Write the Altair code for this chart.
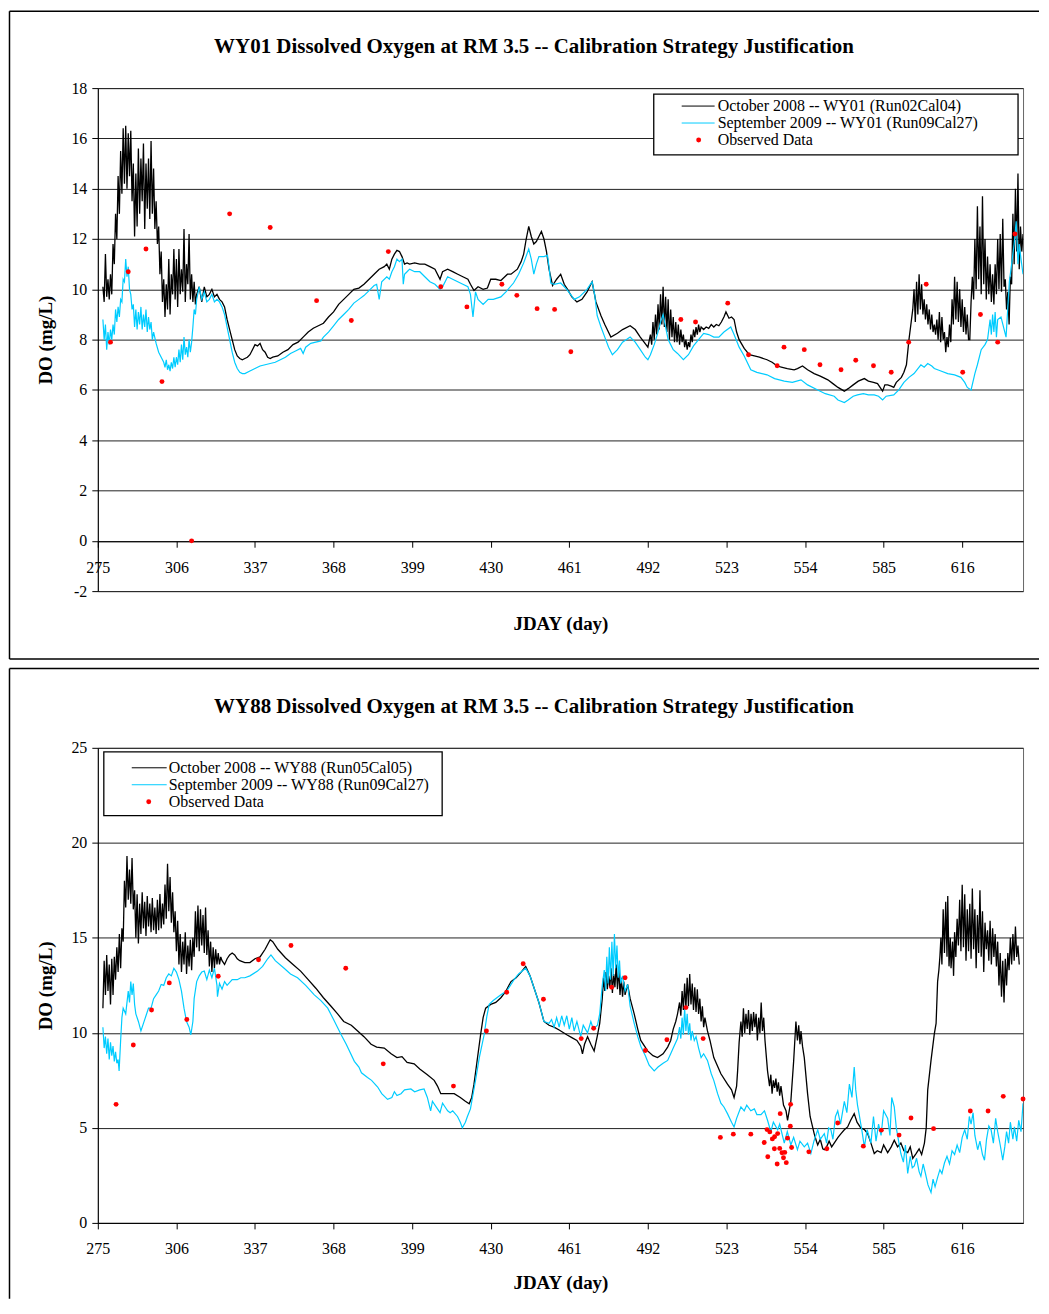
import altair as alt
import pandas as pd

FONT = "Liberation Serif"
BLACK = "#000000"
CYAN = "#00CCFF"
RED = "#FF0000"

X_TICKS = [275, 306, 337, 368, 399, 430, 461, 492, 523, 554, 585, 616]
X_DOMAIN = [275, 640]

WY01_TITLE = "WY01 Dissolved Oxygen at RM 3.5 -- Calibration Strategy Justification"
WY88_TITLE = "WY88 Dissolved Oxygen at RM 3.5 -- Calibration Strategy Justification"
WY01_LABELS = ["October 2008 -- WY01 (Run02Cal04)", "September 2009 -- WY01 (Run09Cal27)", "Observed Data"]
WY88_LABELS = ["October 2008 -- WY88 (Run05Cal05)", "September 2009 -- WY88 (Run09Cal27)", "Observed Data"]
WY01_Y_TICKS = [-2, 0, 2, 4, 6, 8, 10, 12, 14, 16, 18]
WY88_Y_TICKS = [0, 5, 10, 15, 20, 25]
X_TITLE = "JDAY (day)"
Y_TITLE = "DO (mg/L)"

# ---- WY01: October 2008 run (day, DO) ----
WY01_OCT = [
(277,10.1),(277.5,9.5),(278,11.4),(278.5,9.7),(279,10.4),(279.5,9.6),(280,10.6),(280.5,9.8),
(281,11.8),(281.5,11.0),(282,13.0),(282.5,12.0),(283,14.5),(283.5,13.0),(284,15.5),(284.5,13.8),
(285,16.4),(285.5,14.2),(286,16.5),(286.5,14.0),(287,16.2),(287.5,14.5),(288,16.3),(288.5,13.5),
(289,15.0),(289.5,12.1),(290,14.6),(290.5,12.5),(291,15.6),(291.5,13.0),(292,15.2),(292.5,13.5),
(293,15.8),(293.5,12.4),(294,15.0),(294.5,13.2),(295,15.2),(295.5,12.8),(296,15.9),(296.5,13.0),
(297,14.8),(297.5,12.4),(298,13.5),(298.5,11.8),(299,12.5),(299.5,10.6),(300,11.5),(300.5,9.5),
(301,10.4),(301.5,8.9),(302,10.2),(302.5,9.2),(303,11.2),(303.5,9.0),(304,10.6),(304.5,9.8),
(305,11.6),(305.5,9.6),(306,11.2),(306.5,9.3),(307,11.6),(307.5,9.8),(308,10.8),(308.5,9.9),
(309,12.4),(309.5,9.5),(310,11.0),(310.5,10.2),(311,12.2),(311.5,9.6),(312,10.6),(312.5,9.5),
(313,10.3),(313.5,9.4),(314,9.8),(315,10.1),(316,9.5),(317,10.1),(318,9.7),(319,9.8),(320,10.0),
(321,9.7),(322,9.8),(323,9.6),(324,9.5),(325,9.3),(326,8.8),(327,8.4),(328,8.0),(329,7.6),
(330,7.35),(331,7.25),(332,7.2),(333,7.25),(334,7.3),(335,7.4),(336,7.6),(337,7.8),(338,7.75),
(339,7.85),(340,7.6),(341,7.5),(342,7.3),(343,7.25),(344,7.3),(346,7.35),(348,7.5),(350,7.6),
(352,7.8),(354,7.9),(356,8.1),(358,8.3),(360,8.45),(362,8.55),(364,8.65),(366,8.9),(368,9.1),
(370,9.4),(372,9.6),(374,9.8),(376,10.0),(378,10.05),(380,10.2),(382,10.4),(384,10.6),(386,10.8),
(388,10.9),(389,11.0),(390,10.8),(391,11.2),(392,11.4),(393,11.55),(394,11.5),(395,11.3),(396,11.0),
(397,11.05),(398,11.0),(400,11.05),(402,11.0),(404,11.0),(406,10.9),(408,10.8),(410,10.4),(411,10.7),
(413,10.8),(415,10.7),(417,10.6),(419,10.5),(421,10.4),(422,10.2),(423.4,9.95),(425,10.1),(427,10.0),
(428.7,10.05),(430,10.4),(432,10.4),(434,10.35),(436.6,10.6),(438,10.6),(440.5,10.8),(442,11.1),
(443,11.4),(444,12.0),(445,12.5),(446,12.1),(447,11.8),(448,11.9),(449,12.1),(450,12.3),(451,12.0),
(452,11.5),(453,10.8),(454.4,10.15),(456,10.4),(457.6,10.6),(459,10.2),(460.3,10.0),(462,9.7),
(464,9.5),(466,9.6),(468,9.9),(470,10.3),(471.5,9.5),(473.5,8.95),(475,8.6),(477.4,8.1),(480,8.25),
(482,8.4),(485,8.55),(487,8.4),(489,8.1),(490.5,7.9),(492,7.7),
(493,8.2),(493.5,7.8),(494,8.7),(494.5,8.0),(495,9.0),(495.5,8.2),(496,9.4),(496.5,8.4),(497,9.8),
(497.5,8.6),(498,10.1),(498.5,8.5),(499,9.7),(499.5,8.3),(500,9.6),(500.5,8.0),(501,9.2),(501.5,8.1),
(502,8.9),(502.5,7.9),(503,8.7),(503.5,7.9),(504,8.6),(504.5,7.8),(505,8.4),(505.5,7.9),(506,8.2),
(506.5,7.7),(507,8.0),(507.5,7.6),(508,7.9),(508.5,7.7),(509,8.2),(509.5,7.9),(510,8.4),(510.5,8.1),
(511,8.5),(511.5,8.2),(512,8.6),(512.5,8.3),(513,8.5),(514,8.4),(515,8.5),(516,8.45),(517,8.6),
(518,8.5),(519,8.6),(520,8.55),(521,8.7),(522,8.9),(522.8,9.1),(524,8.85),(525,8.9),(526,8.8),
(527,8.3),(528,8.0),(530,7.65),(532,7.4),(534,7.35),(536,7.3),(539,7.2),(541,7.1),(543,6.95),
(545,6.9),(547,6.85),(549.7,6.8),(551,6.85),(553,6.95),(555,6.8),(557.6,6.65),(560,6.55),(563,6.4),
(565,6.25),(567,6.1),(569.5,5.95),(571,6.05),(573,6.2),(575,6.35),(577.4,6.45),(579,6.35),(581,6.3),
(582.6,6.25),(584.6,5.95),(585.5,6.2),(586.6,6.2),(588,6.15),(589,6.1),(590,6.3),(592,6.5),(593,6.7),
(594,7.0),(595,8.0),(596,8.8),(596.5,9.2),(597,10.0),(597.5,8.7),(598,10.3),(598.5,9.0),(599,10.6),
(599.5,9.2),(600,10.2),(600.5,9.0),(601,9.6),(601.5,8.8),(602,9.4),(602.5,8.6),(603,9.2),(603.5,8.4),
(604,9.0),(604.5,8.3),(605,8.6),(605.5,8.2),(606,8.8),(606.5,8.0),(607,9.1),(607.5,7.9),(608,8.9),
(608.5,8.0),(609,8.3),(609.5,7.5),(610,8.1),(610.5,7.7),(611,8.6),(611.5,7.9),(612,9.6),(612.5,8.6),
(613,10.5),(613.5,8.8),(614,10.3),(614.5,8.7),(615,10.0),(615.5,8.5),(616,9.6),(616.5,8.3),(617,9.3),
(617.5,8.2),(618,9.0),(618.5,8.0),(619,8.0),(619.5,9.5),(620,10.5),(620.5,9.6),(621,12.0),(621.5,10.0),
(622,13.3),(622.5,10.4),(623,12.5),(623.5,9.8),(624,13.7),(624.5,10.2),(625,12.0),(625.5,9.6),
(626,11.3),(626.5,9.8),(627,11.0),(627.5,9.5),(628,10.6),(628.5,9.4),(629,11.0),(629.5,9.8),
(630,12.0),(630.5,10.0),(631,12.2),(631.5,9.9),(632,12.8),(632.5,10.1),(633,10.4),(633.5,9.2),
(634,9.9),(634.5,8.6),(635,10.5),(635.5,10.2),(636,13.0),(636.5,11.0),(637,14.0),(637.5,11.5),
(638,14.6),(638.5,10.8),(639,12.5),(639.5,11.5),(640,12.2)]

# ---- WY01: September 2009 run ----
WY01_SEP = [
(277,8.8),(277.5,8.0),(278,8.6),(278.5,7.6),(279,8.3),(279.5,7.8),(280,8.4),(280.5,8.0),(281,8.6),
(281.5,8.2),(282,9.2),(282.5,8.7),(283,9.3),(283.5,8.9),(284,9.6),(284.5,9.5),(285,10.4),(285.5,10.3),
(286,11.2),(286.5,10.5),(287,10.9),(287.5,10.0),(288,9.8),(288.5,9.2),(289,9.4),(289.5,8.5),(290,9.2),
(290.5,8.4),(291,9.1),(291.5,8.6),(292,9.3),(292.5,8.4),(293,9.0),(293.5,8.5),(294,9.2),(294.5,8.3),
(295,8.9),(295.5,8.4),(296,8.7),(296.5,8.0),(297,8.3),(298,7.85),(299,7.5),(300,7.3),(301,7.1),
(301.5,6.9),(302,7.2),(302.5,6.8),(303,7.0),(303.5,6.75),(304,7.1),(304.5,6.85),(305,7.3),(305.5,6.9),
(306,7.3),(306.5,7.0),(307,7.6),(307.5,7.1),(308,7.8),(308.5,7.2),(309,8.1),(309.5,7.4),(310,7.7),
(310.5,7.3),(311,8.0),(311.5,7.5),(312,7.9),(312.5,8.5),(313,9.2),(313.5,9.0),(314,9.6),(315,10.1),
(316,9.6),(317,9.9),(318,9.5),(319,9.6),(320,9.8),(321,9.5),(322,9.6),(323,9.5),(324,9.3),(325,9.0),
(326,8.5),(327,8.0),(328,7.5),(329,7.1),(330,6.85),(331,6.7),(332,6.65),(333,6.65),(335,6.75),
(337,6.85),(339,6.95),(341,7.0),(343,7.05),(345,7.1),(347,7.2),(349,7.3),(351,7.45),(353,7.55),
(355,7.65),(356,7.45),(357,7.7),(359,7.85),(361,7.9),(363,7.95),(364,8.1),(366,8.3),(368,8.55),
(370,8.8),(372,9.0),(374,9.2),(376,9.45),(378,9.6),(380,9.75),(382,9.95),(384,10.15),(385,10.2),
(386,9.6),(387,10.3),(389,10.5),(390,10.4),(391,10.7),(392,10.9),(393,11.2),(394,11.1),(395,11.2),
(395.5,10.2),(396,10.6),(397,10.7),(398,10.8),(400,10.7),(402,10.7),(404,10.5),(406,10.3),(408,10.2),
(410,10.0),(411,10.1),(413,10.5),(415,10.4),(417,10.3),(419,10.2),(421,10.1),(422,9.8),(423,8.9),
(424,9.9),(425,9.6),(427,9.4),(429,9.6),(431,9.6),(434,9.7),(436,9.9),(439,10.25),(441,10.6),
(443,11.05),(445,11.6),(446,11.2),(447,10.6),(448,11.0),(449,11.3),(451,11.3),(452.4,11.35),
(453,10.9),(453.7,10.25),(455,10.2),(457.6,10.25),(460,10.0),(463,9.6),(465,9.7),(468,10.0),
(470,10.3),(471,9.8),(472,8.95),(473.5,8.5),(475,8.1),(476.5,7.7),(478,7.4),(480,7.6),(482,7.9),
(485,8.1),(487,7.9),(489,7.6),(491,7.3),(492,7.2),(493,7.4),(494.5,7.8),(496,8.3),(497,8.7),(498,9.0),
(499,8.5),(500,8.0),(501,7.8),(502,7.6),(503.7,7.45),(506,7.2),(508,7.4),(510,7.75),(512,8.0),
(514,8.25),(516,8.2),(518,8.1),(520,8.1),(522,8.3),(524.7,8.5),(526,8.2),(528,7.7),(530,7.35),
(532.6,6.8),(535,6.7),(539,6.6),(542,6.45),(545.8,6.35),(549,6.3),(552.4,6.4),(555,6.2),(559,6.0),
(562,5.85),(565.5,5.75),(567,5.6),(569.5,5.5),(571,5.6),(573,5.75),(574.7,5.8),(577,5.85),(579,5.8),
(581.3,5.8),(583,5.75),(584.6,5.6),(586,5.75),(589,5.8),(591,6.0),(593,6.3),(595,6.5),(597,6.65),
(599.7,7.0),(601,6.9),(602.4,7.05),(604,6.95),(605,6.85),(607.6,6.75),(610.3,6.65),(613,6.6),
(615.5,6.5),(617,6.3),(618,6.1),(619.5,6.0),(621,6.65),(622,7.0),(623.5,7.6),(625,7.8),(626,8.0),
(627,8.8),(627.5,8.2),(628,9.0),(628.5,8.3),(629,9.1),(629.5,8.1),(630,8.8),(631.3,8.9),(633.3,8.1),
(634.6,10.3),(635.5,11.0),(636.5,11.8),(637.3,12.7),(638,11.0),(638.5,11.8),(639.2,11.2),(640,10.6)]

WY01_OBS = [
(280,7.9),(287,10.7),(294,11.6),(300.3,6.33),(312,0.0),(327,13.0),(343,12.46),(361.3,9.55),
(375,8.76),(389.6,11.5),(410.3,10.1),(420.6,9.3),(434.4,10.2),(440.3,9.76),(448.3,9.23),(455.2,9.2),
(461.6,7.52),(505,8.8),(510.8,8.7),(523.5,9.45),(531.7,7.4),(543,6.96),(545.7,7.7),(553.7,7.6),
(559.9,7.0),(568.2,6.8),(574,7.18),(581,6.96),(588,6.7),(594.9,7.9),(601.8,10.2),(616.2,6.7),
(623.2,9.0),(630,7.9),(636.8,12.2)]

# ---- WY88: October 2008 run ----
WY88_OCT = [
(277,11.3),(277.5,13.8),(278,12.0),(278.5,14.1),(279,12.2),(279.5,13.6),(280,11.5),(280.5,13.9),
(281,12.0),(281.5,14.0),(282,12.8),(282.5,14.5),(283,13.2),(283.5,15.2),(284,13.4),(284.5,15.5),
(285,14.8),(285.5,18.0),(286,16.6),(286.5,19.3),(287,17.0),(287.5,18.6),(288,16.8),(288.5,19.2),
(289,16.5),(289.5,17.5),(290,15.0),(290.5,17.3),(291,14.7),(291.5,16.8),(292,15.2),(292.5,17.4),
(293,15.5),(293.5,16.9),(294,15.1),(294.5,17.2),(295,15.6),(295.5,16.8),(296,15.3),(296.5,17.1),
(297,15.4),(297.5,16.6),(298,15.2),(298.5,17.0),(299,15.4),(299.5,17.3),(300,15.5),(300.5,16.8),
(301,15.7),(301.5,17.8),(302,16.0),(302.5,18.9),(303,16.4),(303.5,18.2),(304,15.8),(304.5,17.4),
(305,15.3),(305.5,16.4),(306,14.3),(306.5,15.9),(307,13.6),(307.5,15.2),(308,13.2),(308.5,14.8),
(309,13.6),(309.5,15.3),(310,13.1),(310.5,14.6),(311,13.5),(311.5,14.9),(312,13.3),(312.5,15.0),
(313,14.0),(313.5,16.4),(314,14.5),(314.5,16.7),(315,14.3),(315.5,16.5),(316,14.6),(316.5,16.2),
(317,14.2),(317.5,16.6),(318,14.1),(318.5,15.4),(319,13.5),(319.5,14.8),(320,13.2),(320.5,14.5),
(321,13.4),(321.5,14.4),(322,13.6),(322.5,14.2),(323,13.6),(323.5,14.0),(324,13.8),(325,13.6),
(326,13.9),(327,14.1),(328,14.2),(329,14.1),(330,13.9),(331,13.8),(333,13.7),(335,13.7),(337,13.9),
(339,14.0),(341,14.4),(343,14.9),(344,14.8),(346,14.4),(349,13.95),(352,13.6),(355,13.25),(358,12.8),
(361,12.35),(364,11.85),(367,11.4),(369.6,11.0),(372,10.6),(375,10.4),(377.5,10.1),(380,9.8),
(382.8,9.4),(385,9.25),(388,9.2),(390.7,8.9),(393,8.7),(395,8.75),(397,8.45),(399.8,8.37),(402,8.1),
(405,7.8),(407.7,7.5),(409,7.2),(410.3,6.8),(413,6.8),(415.6,6.8),(418,6.6),(420,6.4),(421.5,6.27),
(422.5,6.6),(423.4,7.3),(424.5,8.4),(426,9.9),(427,10.8),(428,11.3),(430,11.5),(432,11.6),(434,11.85),
(436,12.2),(438,12.7),(440,12.9),(442,13.2),(443.8,13.5),(445.5,13.0),(447,12.4),(449,11.6),
(451,10.6),(453,10.4),(455,10.3),(457,10.15),(460,9.9),(462,9.75),(464,9.6),(465.5,9.3),(466.2,8.9),
(467,9.4),(468.2,9.8),(469.5,9.4),(470.8,9.05),(472,9.8),(473,10.5),(474,11.8),(474.5,12.9),
(475,12.2),(475.5,13.2),(476,12.3),(476.5,13.0),(477,12.4),(477.5,13.4),(478,12.1),(478.5,13.1),
(479,12.4),(479.5,13.6),(480,12.3),(480.5,13.4),(481,12.0),(481.5,12.9),(482,11.9),(482.5,12.7),
(483,12.0),(484,12.55),(485,11.8),(486.6,11.0),(488,10.2),(489.2,9.6),(491.9,9.05),(494,8.8),
(495.8,8.7),(498,8.9),(499.8,9.25),(501,9.6),(502,10.2),(503,10.6),(503.7,11.0),(504.5,11.6),
(505,10.9),(505.5,12.2),(506,11.2),(506.5,12.6),(507,11.3),(507.5,12.9),(508,11.4),(508.5,13.1),
(509,11.5),(509.5,12.6),(510,11.2),(510.5,12.4),(511,11.1),(511.5,12.3),(512,11.0),(512.5,11.8),
(513,10.6),(513.5,11.4),(514,10.3),(514.5,10.8),(515.5,10.1),(516.5,9.6),(518,8.7),(520.8,7.85),
(523.4,7.3),(525,7.0),(526,6.6),(527,7.2),(527.4,8.0),(528,9.5),(528.7,10.6),(529.2,9.8),(529.7,11.3),
(530.2,10.0),(530.7,11.0),(531.2,10.2),(531.7,11.2),(532.2,9.9),(532.7,11.0),(533.2,10.1),(533.7,11.1),
(534.2,10.3),(534.7,11.0),(535.2,9.6),(535.7,10.8),(536.2,10.0),(536.7,11.6),(537.2,10.1),(537.7,10.8),
(538.2,9.6),(539.2,8.0),(540,7.2),(540.5,7.8),(541,6.8),(541.5,7.5),(542,7.1),(542.5,7.6),(543,6.9),
(543.5,7.4),(544,6.7),(544.5,7.2),(545.5,6.2),(546.5,5.9),(547.1,5.4),(548.4,6.4),(549.5,8.5),
(550.4,10.6),(551,9.6),(551.5,10.4),(552,9.4),(552.4,10.1),(553,9.3),(553.7,8.7),(555,6.8),(556,5.6),
(557.6,4.7),(558.5,4.3),(559,4.1),(560,4.4),(561,3.9),(561.6,3.85),(562.5,4.0),(563.5,4.3),(564.5,4.0),
(565.5,4.2),(567,4.5),(568.2,4.7),(569.5,4.9),(570.8,5.05),(572,5.4),(573.4,5.75),(574.5,5.3),
(576,5.0),(577.5,4.9),(578.7,4.7),(580,4.2),(581.3,3.65),(582.5,3.8),(584,3.7),(585,4.1),(586.6,3.7),
(588,4.0),(589.2,4.35),(590.5,4.0),(591.8,4.2),(593,3.8),(594.5,3.7),(595.5,4.0),(596.5,3.4),
(597.8,3.65),(599,3.9),(600,3.6),(601.1,4.2),(601.8,5.0),(602.4,7.0),(603.7,8.55),(605,9.95),
(605.7,10.5),(606.3,12.7),(606.8,13.3),(607.2,14.0),(607.6,15.0),(608,13.6),(608.5,16.5),(609,14.2),
(609.5,16.9),(610,14.0),(610.3,17.2),(610.8,13.5),(611.3,15.0),(611.6,13.4),(612.2,14.8),(612.6,13.0),
(613,15.3),(613.5,14.0),(614,16.0),(614.5,14.6),(615,17.0),(615.5,14.3),(616,17.8),(616.5,14.5),
(617,17.3),(617.5,13.8),(618,16.5),(618.5,14.3),(619,16.8),(619.5,13.9),(620,17.6),(620.5,14.4),
(621,16.5),(621.5,13.4),(622,16.2),(622.5,14.2),(623,17.5),(623.5,14.0),(624,16.4),(624.5,13.2),
(625,15.8),(625.5,14.4),(626,15.4),(626.5,13.8),(627,15.9),(627.5,13.6),(628,15.5),(628.5,14.0),
(629,15.2),(629.5,13.5),(630,14.8),(630.5,12.5),(631,14.2),(631.5,11.9),(632,13.8),(632.5,11.6),
(633,13.9),(633.5,12.5),(634,14.2),(634.5,13.3),(635,15.0),(635.5,13.6),(636,15.2),(636.5,13.8),
(637,15.6),(637.5,14.0),(638,14.6),(638.5,13.6)]

# ---- WY88: September 2009 run ----
WY88_SEP = [
(277,10.3),(277.5,9.2),(278,9.8),(278.5,8.9),(279,9.7),(279.5,8.6),(280,9.5),(280.5,8.8),(281,9.3),
(281.5,8.5),(282,9.0),(282.5,8.4),(283,8.6),(283.4,8.0),(284,9.6),(284.5,10.8),(285,11.3),(286,11.0),
(287,12.2),(287.5,11.6),(288,12.7),(288.5,12.0),(289,12.6),(289.5,11.5),(290,11.0),(291,10.6),
(292,10.1),(293,10.5),(294,10.9),(295,11.3),(296,11.3),(297,11.8),(298,12.0),(299,12.2),(300,12.55),
(301,12.5),(302,12.9),(303,13.1),(304,13.0),(305,13.4),(306,13.2),(307,12.8),(308,12.2),(309,11.3),
(310,10.6),(311,10.3),(311.7,9.9),(312.5,10.6),(313,11.8),(314,12.7),(315,13.0),(316,13.2),
(317,13.25),(318,12.8),(319,13.3),(320,12.9),(321,13.4),(322,12.5),(322.2,11.9),(323,12.6),
(324,12.3),(325,12.7),(326,12.5),(328,12.8),(330,12.8),(331.4,12.9),(333,12.9),(335,13.0),
(338,13.25),(340,13.5),(342,13.9),(343.3,14.1),(345,13.8),(348.5,13.4),(351,13.1),(353.8,12.9),
(357,12.5),(360.4,12.0),(363,11.7),(365.7,11.3),(368,10.7),(371,9.9),(373,9.4),(376.2,8.5),
(378,8.2),(379,7.9),(381.4,7.65),(383,7.5),(385.4,7.15),(387,6.8),(389.3,6.5),(391,6.6),(392,6.9),
(393,6.7),(394.6,6.8),(396,7.0),(398.5,7.05),(400,6.9),(402,7.0),(403.7,7.05),(405,6.6),(406.3,5.9),
(407,6.4),(408,6.2),(409,6.0),(410,5.8),(411,6.3),(412,6.1),(413,5.9),(414,5.8),(415,5.9),
(416.9,5.6),(418,5.3),(418.8,5.0),(420,5.3),(420.8,5.6),(422,6.0),(424,7.5),(425.5,8.7),(427.4,9.9),
(428.5,10.9),(429.4,11.5),(431,11.7),(434,12.0),(436.3,12.2),(439.2,12.8),(441,13.1),(443.8,13.4),
(445.5,13.0),(447,12.4),(449,11.6),(451,10.6),(453,10.5),(454,10.7),(455,10.3),(456,10.8),(457,10.3),
(458,10.9),(459,10.4),(460,10.9),(461,10.2),(462,10.8),(462.9,10.1),(464,10.6),(465.5,9.8),
(466.5,10.4),(468.2,10.0),(469.5,10.6),(470.5,10.2),(472.1,10.4),(473,11.0),(474,12.5),(474.8,13.3),
(475.3,12.2),(475.8,14.0),(476.3,12.6),(476.8,14.5),(477.3,12.8),(477.8,14.8),(478.3,13.0),
(478.8,15.2),(479.3,13.4),(479.8,14.6),(480.3,12.9),(480.8,13.8),(481.3,12.6),(482,13.0),(483,12.2),
(484,12.55),(485,11.4),(486.6,10.5),(488,9.8),(489.2,9.3),(491,8.8),(492.5,8.3),(494.5,8.0),
(496,8.2),(498,8.4),(499.8,8.55),(501,8.9),(502,9.2),(503.7,9.7),(504.5,10.3),(505,9.7),(505.5,10.8),
(506,9.9),(506.5,11.3),(507,10.1),(507.5,11.0),(508,9.9),(508.5,10.5),(509,9.6),(509.5,10.1),
(510.3,9.6),(511,9.8),(512,9.2),(513,8.7),(514,8.9),(515.5,8.55),(517,7.85),(518,7.5),(519.5,6.8),
(520.8,6.3),(522,6.1),(523.4,5.75),(525,5.3),(526,5.05),(527,5.5),(528.7,6.1),(530,5.9),(531,6.2),
(532.6,5.9),(534,6.0),(535,5.7),(536.6,5.7),(538,5.9),(539.2,5.4),(540.5,4.8),(541.5,5.3),(543.2,4.9),
(544,5.2),(545.8,4.2),(547,4.8),(548.4,4.1),(549.5,4.5),(551,3.85),(552,4.3),(553.7,4.0),(555,4.2),
(556.3,3.65),(557.5,4.3),(559,4.9),(560,4.4),(561.6,4.7),(562.5,4.2),(563.3,5.0),(564.2,4.9),
(565,4.4),(566,5.6),(566.9,5.9),(568,5.2),(569.5,6.4),(570.5,5.8),(571.5,7.3),(572.5,6.6),
(573.4,8.2),(574,7.0),(574.7,6.2),(575.5,5.6),(576.5,4.8),(577.4,4.0),(578.5,4.9),(580,4.2),
(581,5.6),(582,4.3),(583,5.2),(584,4.6),(585,5.9),(586.6,5.5),(587.5,4.6),(588.2,6.6),(589.2,6.1),
(590,5.0),(590.8,4.4),(591.8,3.65),(592.8,3.2),(593.6,4.1),(594.5,2.6),(595.5,3.5),(596.3,2.9),
(597.1,3.0),(598,3.4),(599,2.7),(599.7,2.45),(600.6,3.1),(601.5,2.6),(602.5,2.0),(603.7,1.6),
(604.5,2.3),(605.3,1.9),(606.3,2.4),(607.2,2.8),(608,2.6),(609,3.15),(610,3.5),(611,3.1),(612,3.8),
(613,3.6),(614,4.1),(615,3.7),(616,4.5),(617,4.9),(618,4.4),(618.8,5.6),(619.5,5.2),(620.3,5.8),
(621,4.6),(622.1,3.85),(623,4.3),(624,3.6),(624.8,3.3),(625.6,4.4),(626.5,5.1),(627.4,4.9),
(628.3,4.2),(629.2,5.5),(630,4.8),(631,4.1),(632,3.3),(632.8,4.0),(633.5,4.8),(634.3,4.2),(635,5.3),
(636,4.4),(636.6,5.05),(637.5,4.3),(638.3,5.4),(639.2,4.8),(640,6.3)]

WY88_OBS = [
(282.2,6.24),(289,9.36),(296.2,11.2),(303.2,12.63),(310.1,10.7),(322.5,12.98),(338.4,13.85),
(351.2,14.6),(372.8,13.4),(387.6,8.37),(415.3,7.2),(428.3,10.1),(436.3,12.14),(442.8,13.64),
(450.8,11.77),(465.7,9.7),(470.6,10.24),(477.7,12.4),(483,12.9),(491,9.07),(499.5,9.64),(507,11.33),
(513.8,9.7),(520.6,4.5),(525.7,4.67),(532.6,4.67),(537.9,4.23),(539,4.91),(539.3,3.48),(540.1,4.79),
(541.1,4.42),(541.9,3.9),(542,4.53),(543,3.1),(543.2,4.7),(544,3.92),(544.2,5.75),(544.9,3.69),
(545.5,3.43),(546,3.71),(546.6,3.17),(547.1,4.46),(548.2,5.09),(548.3,6.24),(548.7,3.97),
(555.5,3.74),(562.6,3.9),(566.9,5.26),(577,4.04),(584.1,4.88),(591.1,4.62),(595.8,5.52),(604.7,4.96),
(619.2,5.89),(626.2,5.89),(632.2,6.66),(640,6.52)]

PLOT_W = 927


def one_row():
    return pd.DataFrame({"k": [0]})


def panel(title, labels, oct_pts, sep_pts, obs_pts, y_domain, y_ticks, height,
          x_offset, x_title_y, frame_top, frame_bottom, draw_bottom, leg):
    x_enc = alt.X("day:Q",
                  scale=alt.Scale(domain=X_DOMAIN, nice=False, zero=False),
                  axis=alt.Axis(values=X_TICKS, title=X_TITLE, grid=False, offset=x_offset,
                                tickSize=6, labelPadding=12, labelFlush=False, labelOverlap=False,
                                titleY=x_title_y, titleBaseline="middle"))
    y_enc = alt.Y("do:Q",
                  scale=alt.Scale(domain=y_domain, nice=False, zero=False),
                  axis=alt.Axis(values=y_ticks, title=Y_TITLE, grid=True, tickSize=6,
                                labelPadding=5, titleX=-52, titleBaseline="middle",
                                labelExpr="datum.value < 0 ? '-' + abs(datum.value) : datum.label"))
    oct_df = pd.DataFrame(oct_pts, columns=["day", "do"])
    sep_df = pd.DataFrame(sep_pts, columns=["day", "do"])
    obs_df = pd.DataFrame(obs_pts, columns=["day", "do"])

    layers = []
    # frame of the panel (decoration)
    layers.append(alt.Chart(one_row()).mark_rule(color=BLACK, strokeWidth=1.5).encode(
        x=alt.value(-88.5), x2=alt.value(943), y=alt.value(frame_top)))
    layers.append(alt.Chart(one_row()).mark_rule(color=BLACK, strokeWidth=1.5).encode(
        x=alt.value(-88.5), y=alt.value(frame_top), y2=alt.value(frame_bottom)))
    if draw_bottom:
        layers.append(alt.Chart(one_row()).mark_rule(color=BLACK, strokeWidth=1.5).encode(
            x=alt.value(-88.5), x2=alt.value(943), y=alt.value(frame_bottom)))

    # chart title (text mark so it is placed relative to the plot area, not to the frame)
    layers.append(alt.Chart(pd.DataFrame({"title": [title]})).mark_text(
        align="center", baseline="middle", font=FONT, fontSize=21, fontWeight="bold",
        color=BLACK).encode(x=alt.value(437), y=alt.value(-41), text="title:N"))

    layers.append(alt.Chart(oct_df).mark_line(color=BLACK, strokeWidth=1.3, clip=True).encode(x=x_enc, y=y_enc))
    layers.append(alt.Chart(sep_df).mark_line(color=CYAN, strokeWidth=1.2, clip=True).encode(x=x_enc, y=y_enc))
    layers.append(alt.Chart(obs_df).mark_point(filled=True, color=RED, size=24, opacity=1,
                                               shape="circle").encode(x=x_enc, y=y_enc))

    # legend (decoration)
    bx0, bx1, by0, by1, lx0, lx1, dotx, tx, rows = leg
    layers.append(alt.Chart(one_row()).mark_rect(fill="white", stroke=BLACK, strokeWidth=1.3).encode(
        x=alt.value(bx0), x2=alt.value(bx1), y=alt.value(by0), y2=alt.value(by1)))
    layers.append(alt.Chart(one_row()).mark_rule(color=BLACK, strokeWidth=1).encode(
        x=alt.value(lx0), x2=alt.value(lx1), y=alt.value(rows[0])))
    layers.append(alt.Chart(one_row()).mark_rule(color=CYAN, strokeWidth=1).encode(
        x=alt.value(lx0), x2=alt.value(lx1), y=alt.value(rows[1])))
    layers.append(alt.Chart(one_row()).mark_point(filled=True, color=RED, size=24, opacity=1,
                                                  shape="circle").encode(
        x=alt.value(dotx), y=alt.value(rows[2])))
    for lab, ry in zip(labels, rows):
        layers.append(alt.Chart(pd.DataFrame({"label": [lab]})).mark_text(
            align="left", baseline="middle", font=FONT, fontSize=16, color=BLACK).encode(
            x=alt.value(tx), y=alt.value(ry), text="label:N"))

    return alt.layer(*layers).properties(width=PLOT_W, height=height)


top = panel(WY01_TITLE, WY01_LABELS, WY01_OCT, WY01_SEP, WY01_OBS, [-2, 18], WY01_Y_TICKS, 504,
            -50, 82, -77, 572, True,
            (557, 922, 6, 67, 585, 618, 602, 621, [18, 35, 52]))
bottom = panel(WY88_TITLE, WY88_LABELS, WY88_OCT, WY88_SEP, WY88_OBS, [0, 25], WY88_Y_TICKS, 476,
               0, 60, -79.5, 552, False,
               (6, 345, 4, 68, 34, 69, 51, 71, [20, 37, 54]))

chart = alt.vconcat(top, bottom, spacing=157, bounds="flush").properties(
    padding={"left": 0, "top": 0, "right": 0, "bottom": 0},
    background="white",
).configure_view(
    stroke="#666666", strokeWidth=1
).configure_axis(
    labelFont=FONT, labelFontSize=16, labelColor=BLACK,
    titleFont=FONT, titleFontSize=19, titleFontWeight="bold", titleColor=BLACK,
    domainColor=BLACK, domainWidth=1, tickColor=BLACK, tickWidth=1,
    gridColor="#222222", gridWidth=1, gridOpacity=1,
)

chart.save("out.html", embed_options={"renderer": "svg", "actions": False})
